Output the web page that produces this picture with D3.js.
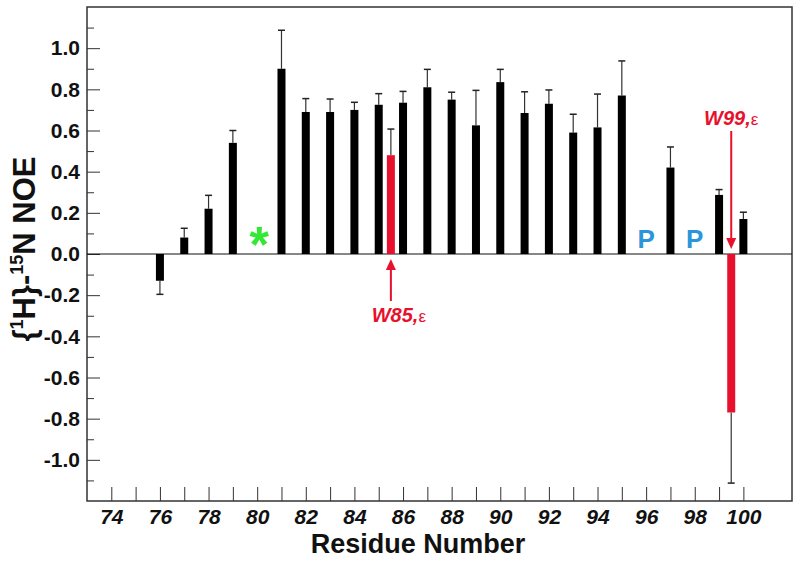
<!DOCTYPE html>
<html>
<head>
<meta charset="utf-8">
<script src="https://cdn.jsdelivr.net/npm/d3@7"></script>
<style>
  body { margin: 0; background: #fff; }
  svg text { font-family: "Liberation Sans", Arial, sans-serif; }
</style>
</head>
<body>
<div id="chart"></div>
<script>
// residue numbers and NOE values (black bars)
const residues = [76, 77, 78, 79, 81, 82, 83, 84, 85, 86, 87, 88, 89, 90, 91, 92, 93, 94, 95, 97, 99, 100];
const noe      = [-0.13, 0.08, 0.22, 0.54, 0.90, 0.69, 0.69, 0.70, 0.725, 0.735, 0.81, 0.75, 0.625, 0.835, 0.685, 0.73, 0.59, 0.615, 0.77, 0.42, 0.287, 0.17];
const noeErr   = [0.066, 0.045, 0.065, 0.06, 0.187, 0.065, 0.063, 0.037, 0.054, 0.055, 0.087, 0.036, 0.17, 0.062, 0.103, 0.067, 0.089, 0.162, 0.168, 0.10, 0.026, 0.033];

// tryptophan side-chain (epsilon) values, red bars
const trpPos   = [85.5, 99.5];
const trpNoe   = [0.48, -0.77];
const trpErr   = [0.127, 0.343];
const trpLabel = ["W85,", "W99,"];

// residues marked with P (prolines) and * (missing)
const proPos  = [96, 98];
const starPos = [80];

const yMajor  = [-1.0, -0.8, -0.6, -0.4, -0.2, 0.0, 0.2, 0.4, 0.6, 0.8, 1.0];
const yMinor  = [-1.1, -0.9, -0.7, -0.5, -0.3, -0.1, 0.1, 0.3, 0.5, 0.7, 0.9, 1.1];
const xTicks  = [74, 75, 76, 77, 78, 79, 80, 81, 82, 83, 84, 85, 86, 87, 88, 89, 90, 91, 92, 93, 94, 95, 96, 97, 98, 99, 100];
const xLabels = [74, 76, 78, 80, 82, 84, 86, 88, 90, 92, 94, 96, 98, 100];

const margin = { top: 7, right: 8, bottom: 60, left: 87 };
const width = 800 - margin.left - margin.right;
const height = 561 - margin.top - margin.bottom;

const red = "#e8112d";
const blue = "#2b95dc";
const green = "#33e833";

const svg = d3.select("#chart")
  .append("svg")
  .attr("width", 800)
  .attr("height", 561)
  .append("g")
  .attr("transform", `translate(${margin.left},${margin.top})`);

const x = d3.scaleLinear().domain([73, 102]).range([0, width]);
const y = d3.scaleLinear().domain([-1.2, 1.2]).range([height, 0]);

const barW = 8;
const capW = 7;

// axes
const yAxis = svg.append("g")
  .call(d3.axisLeft(y).tickValues(yMajor).tickSizeInner(-13).tickSizeOuter(0).tickPadding(7)
    .tickFormat(v => v.toFixed(1)));
yAxis.select(".domain").remove();
yAxis.selectAll("text").style("font-size", "21px").style("font-weight", "bold").attr("fill", "#111");
yAxis.selectAll("line").attr("stroke", "#333");

const yMinorAxis = svg.append("g")
  .call(d3.axisLeft(y).tickValues(yMinor).tickSizeInner(-7).tickSizeOuter(0).tickFormat(""));
yMinorAxis.select(".domain").remove();
yMinorAxis.selectAll("line").attr("stroke", "#333");

const xAxis = svg.append("g")
  .attr("transform", `translate(0,${height})`)
  .call(d3.axisBottom(x).tickValues(xTicks).tickSizeInner(-14).tickSizeOuter(0).tickPadding(8)
    .tickFormat(v => xLabels.includes(v) ? v : ""));
xAxis.select(".domain").remove();
xAxis.selectAll("text").style("font-size", "21px").style("font-weight", "bold").style("font-style", "italic").attr("fill", "#111");
xAxis.selectAll("line").attr("stroke", "#333");

// frame
svg.append("rect")
  .attr("width", width).attr("height", height)
  .attr("fill", "none").attr("stroke", "#333").attr("stroke-width", 1.5);

// zero line
svg.append("line")
  .attr("x1", 0).attr("x2", width)
  .attr("y1", y(0)).attr("y2", y(0))
  .attr("stroke", "#111").attr("stroke-width", 1.2);

const data = residues.map((r, i) => ({ r, v: noe[i], e: noeErr[i] }));
const trp = trpPos.map((r, i) => ({ r, v: trpNoe[i], e: trpErr[i], label: trpLabel[i] }));

function drawErr(sel) {
  sel.each(function(d) {
    const g = d3.select(this);
    const end = d.v >= 0 ? d.v + d.e : d.v - d.e;
    g.append("line")
      .attr("x1", x(d.r)).attr("x2", x(d.r))
      .attr("y1", y(d.v)).attr("y2", y(end))
      .attr("stroke", "#333").attr("stroke-width", 1.2);
    g.append("line")
      .attr("x1", x(d.r) - capW / 2).attr("x2", x(d.r) + capW / 2)
      .attr("y1", y(end)).attr("y2", y(end))
      .attr("stroke", "#222").attr("stroke-width", 1.5);
  });
}

svg.append("g").selectAll("g").data(data.concat(trp)).join("g").call(drawErr);

svg.append("g").selectAll("rect").data(data).join("rect")
  .attr("x", d => x(d.r) - barW / 2)
  .attr("width", barW)
  .attr("y", d => y(Math.max(0, d.v)))
  .attr("height", d => Math.abs(y(d.v) - y(0)))
  .attr("fill", "#000");

svg.append("g").selectAll("rect").data(trp).join("rect")
  .attr("x", d => x(d.r) - barW / 2)
  .attr("width", barW)
  .attr("y", d => y(Math.max(0, d.v)))
  .attr("height", d => Math.abs(y(d.v) - y(0)))
  .attr("fill", red);

// P markers
svg.append("g").selectAll("text").data(proPos).join("text")
  .attr("x", d => x(d)).attr("y", y(0) - 6)
  .attr("text-anchor", "middle")
  .style("font-size", "26px").style("font-weight", "bold")
  .attr("fill", blue)
  .text("P");

// asterisk
svg.append("g").selectAll("text").data(starPos).join("text")
  .attr("x", d => x(d) + 2).attr("y", y(0) + 8)
  .attr("text-anchor", "middle")
  .style("font-size", "50px").style("font-weight", "bold")
  .attr("fill", green)
  .text("*");

// arrows + labels for W85 and W99
const arrowHead = (tx, ty, dir) => {
  const w = 5, h = 11;
  return `M${tx},${ty} L${tx - w},${ty - dir * h} L${tx + w},${ty - dir * h} Z`;
};

// W85: arrow pointing up from below
const w85 = trp[0];
const ax85 = x(w85.r);
svg.append("line")
  .attr("x1", ax85).attr("x2", ax85)
  .attr("y1", y(0) + 14).attr("y2", y(0) + 47)
  .attr("stroke", red).attr("stroke-width", 2);
svg.append("path").attr("d", arrowHead(ax85, y(0) + 5, -1)).attr("fill", red);
const t85 = svg.append("text")
  .attr("x", ax85 + 8).attr("y", y(0) + 68)
  .attr("text-anchor", "middle")
  .attr("fill", red);
t85.append("tspan").text(w85.label).style("font-size", "20px").style("font-weight", "bold").style("font-style", "italic");
t85.append("tspan").text("ε").style("font-size", "17px");

// W99: arrow pointing down from above
const w99 = trp[1];
const ax99 = x(w99.r);
svg.append("line")
  .attr("x1", ax99).attr("x2", ax99)
  .attr("y1", 131 - margin.top).attr("y2", y(0) - 14)
  .attr("stroke", red).attr("stroke-width", 2);
svg.append("path").attr("d", arrowHead(ax99, y(0) - 5, 1)).attr("fill", red);
const t99 = svg.append("text")
  .attr("x", ax99).attr("y", 125 - margin.top)
  .attr("text-anchor", "middle")
  .attr("fill", red);
t99.append("tspan").text(w99.label).style("font-size", "20px").style("font-weight", "bold").style("font-style", "italic");
t99.append("tspan").text("ε").style("font-size", "17px");

// axis titles
svg.append("text")
  .attr("x", 418 - margin.left).attr("y", height + 52)
  .attr("text-anchor", "middle")
  .style("font-size", "27px").style("font-weight", "bold")
  .attr("fill", "#111")
  .text("Residue Number");

const yl = svg.append("text")
  .attr("transform", `translate(${35 - margin.left},${249 - margin.top}) rotate(-90)`)
  .attr("text-anchor", "middle")
  .style("font-size", "31px").style("font-weight", "bold")
  .attr("fill", "#111");
yl.append("tspan").text("{");
yl.append("tspan").text("1").style("font-size", "18px").attr("dy", -12);
yl.append("tspan").text("H}-").attr("dy", 12);
yl.append("tspan").text("15").style("font-size", "18px").attr("dy", -12);
yl.append("tspan").text("N NOE").attr("dy", 12);
</script>
</body>
</html>
